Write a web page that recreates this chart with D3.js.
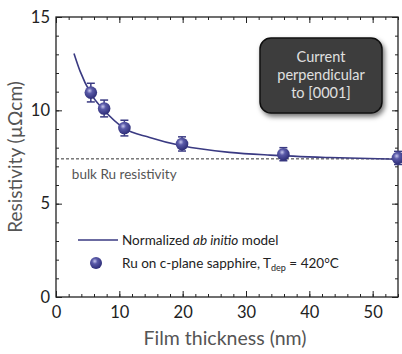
<!DOCTYPE html>
<html>
<head>
<meta charset="utf-8">
<script src="https://cdn.jsdelivr.net/npm/d3@7"></script>
<style>
  body { margin: 0; background: #fff; }
  svg text { font-family: Lato, "Open Sans", sans-serif; }
</style>
</head>
<body>
<div id="chart"></div>
<script>
// measured Ru films: thickness (nm), resistivity (uOhm cm), error bar half-height
var thickness = [5.5, 7.6, 10.8, 19.9, 35.9, 54];
var resistivity = [10.95, 10.1, 9.05, 8.2, 7.65, 7.45];
var errs = [0.5, 0.45, 0.42, 0.38, 0.35, 0.35];

// normalized ab initio model
var modelX = [2.84, 3.8, 5.5, 7.6, 10.7, 14.8, 19.9, 27.4, 33.8, 43.2, 54];
var modelY = [13.05, 12.1, 10.9, 10.0, 9.05, 8.55, 8.1, 7.75, 7.6, 7.47, 7.38];

var bulk = 7.4;
var xTicks = [0, 10, 20, 30, 40, 50];
var yTicks = [0, 5, 10, 15];

var width = 402, height = 354;
var margin = {top: 17, right: 4, bottom: 57, left: 56};

var svg = d3.select("#chart").append("svg")
    .attr("width", width)
    .attr("height", height);

var defs = svg.append("defs");
var grad = defs.append("radialGradient")
    .attr("id", "ball")
    .attr("cx", "40%").attr("cy", "35%").attr("r", "65%");
grad.append("stop").attr("offset", "0%").attr("stop-color", "#c8c8ee");
grad.append("stop").attr("offset", "35%").attr("stop-color", "#5a5aa8");
grad.append("stop").attr("offset", "100%").attr("stop-color", "#2e2e78");

var shadow = defs.append("filter").attr("id", "shadow")
    .attr("x", "-20%").attr("y", "-20%").attr("width", "150%").attr("height", "150%");
shadow.append("feDropShadow")
    .attr("dx", 2).attr("dy", 3).attr("stdDeviation", 2.5)
    .attr("flood-color", "#000").attr("flood-opacity", 0.55);

var x = d3.scaleLinear().domain([0, 54]).range([margin.left, width - margin.right]);
var y = d3.scaleLinear().domain([0, 15]).range([height - margin.bottom, margin.top]);

var x0 = x.range()[0], x1 = x.range()[1], y0 = y.range()[0], y1 = y.range()[1];

// axes, ticks pointing into the plot
var axisColor = "#222";
svg.append("g")
    .attr("transform", "translate(0," + y0 + ")")
    .call(d3.axisBottom(x).tickValues(d3.range(0, 55, 2)).tickSize(-3).tickFormat(""))
    .call(g => g.select(".domain").remove());
svg.append("g")
    .attr("transform", "translate(0," + y0 + ")")
    .call(d3.axisBottom(x).tickValues(xTicks).tickSize(-6).tickPadding(9))
    .call(g => g.select(".domain").remove())
    .call(g => g.selectAll("text").attr("font-size", 16.5).attr("fill", "#222"));
svg.append("g")
    .attr("transform", "translate(0," + y1 + ")")
    .call(d3.axisTop(x).tickValues(d3.range(0, 55, 2)).tickSize(-3).tickFormat(""))
    .call(g => g.select(".domain").remove());
svg.append("g")
    .attr("transform", "translate(0," + y1 + ")")
    .call(d3.axisTop(x).tickValues(xTicks).tickSize(-6).tickFormat(""))
    .call(g => g.select(".domain").remove());

svg.append("g")
    .attr("transform", "translate(" + x0 + ",0)")
    .call(d3.axisLeft(y).tickValues(d3.range(0, 16, 1)).tickSize(-3).tickFormat(""))
    .call(g => g.select(".domain").remove());
svg.append("g")
    .attr("transform", "translate(" + x0 + ",0)")
    .call(d3.axisLeft(y).tickValues(yTicks).tickSize(-6).tickPadding(6))
    .call(g => g.select(".domain").remove())
    .call(g => g.selectAll("text").attr("font-size", 16.5).attr("fill", "#222"));
svg.append("g")
    .attr("transform", "translate(" + x1 + ",0)")
    .call(d3.axisRight(y).tickValues(d3.range(0, 16, 1)).tickSize(-3).tickFormat(""))
    .call(g => g.select(".domain").remove());
svg.append("g")
    .attr("transform", "translate(" + x1 + ",0)")
    .call(d3.axisRight(y).tickValues(yTicks).tickSize(-6).tickFormat(""))
    .call(g => g.select(".domain").remove());

svg.selectAll(".tick line").attr("stroke", axisColor);

svg.append("rect")
    .attr("x", x0).attr("y", y1)
    .attr("width", x1 - x0).attr("height", y0 - y1)
    .attr("fill", "none").attr("stroke", axisColor).attr("stroke-width", 1.3);

// bulk line
svg.append("line")
    .attr("x1", x0).attr("x2", x1)
    .attr("y1", y(bulk)).attr("y2", y(bulk))
    .attr("stroke", "#333").attr("stroke-width", 1)
    .attr("stroke-dasharray", "3,2");
svg.append("text")
    .attr("x", x(2.5)).attr("y", y(bulk) + 20)
    .attr("font-size", 13.5).attr("fill", "#555")
    .text("bulk Ru resistivity");

// model curve
var curveColor = "#3a3a82";
var line = d3.line()
    .x(d => x(d[0])).y(d => y(d[1]))
    .curve(d3.curveMonotoneX);
svg.append("path")
    .datum(d3.zip(modelX, modelY))
    .attr("d", line)
    .attr("fill", "none")
    .attr("stroke", curveColor)
    .attr("stroke-width", 1.6);

// data points with error bars
var pts = svg.append("g").selectAll("g")
    .data(d3.range(thickness.length))
  .enter().append("g");
pts.append("line")
    .attr("x1", i => x(thickness[i])).attr("x2", i => x(thickness[i]))
    .attr("y1", i => y(resistivity[i] + errs[i])).attr("y2", i => y(resistivity[i] - errs[i]))
    .attr("stroke", curveColor).attr("stroke-width", 1.5);
pts.selectAll("line.cap")
    .data(i => [[i, 1], [i, -1]])
  .enter().append("line")
    .attr("class", "cap")
    .attr("x1", d => x(thickness[d[0]]) - 4).attr("x2", d => x(thickness[d[0]]) + 4)
    .attr("y1", d => y(resistivity[d[0]] + d[1] * errs[d[0]]))
    .attr("y2", d => y(resistivity[d[0]] + d[1] * errs[d[0]]))
    .attr("stroke", curveColor).attr("stroke-width", 1.5);
pts.append("circle")
    .attr("cx", i => x(thickness[i])).attr("cy", i => y(resistivity[i]))
    .attr("r", 6.3)
    .attr("fill", "url(#ball)");

// legend
svg.append("line")
    .attr("x1", 78).attr("x2", 118).attr("y1", 240).attr("y2", 240)
    .attr("stroke", curveColor).attr("stroke-width", 1.6);
var t1 = svg.append("text").attr("x", 122).attr("y", 245)
    .attr("font-size", 13.5).attr("fill", "#222");
t1.append("tspan").text("Normalized ");
t1.append("tspan").attr("font-style", "italic").text("ab initio");
t1.append("tspan").text(" model");

svg.append("circle").attr("cx", 96).attr("cy", 263).attr("r", 6)
    .attr("fill", "url(#ball)");
var t2 = svg.append("text").attr("x", 122).attr("y", 268)
    .attr("font-size", 13.5).attr("fill", "#222");
t2.append("tspan").text("Ru on c-plane sapphire, T");
t2.append("tspan").attr("font-size", 9).attr("dy", 3).text("dep");
t2.append("tspan").attr("dy", -3).text(" = 420°C");

// annotation box
svg.append("rect")
    .attr("x", 260).attr("y", 38).attr("width", 122).attr("height", 75)
    .attr("rx", 11).attr("ry", 11)
    .attr("fill", "#3c3c3c").attr("stroke", "#111").attr("stroke-width", 1.5)
    .attr("filter", "url(#shadow)");
svg.append("text")
    .attr("x", 321).attr("y", 48).attr("text-anchor", "middle")
    .attr("font-size", 14.5).attr("fill", "#e0e0e0")
    .selectAll("tspan")
    .data(["Current", "perpendicular", "to [0001]"])
  .enter().append("tspan")
    .attr("x", 321).attr("dy", (d, i) => i === 0 ? 14 : 18)
    .text(d => d);

// axis titles
svg.append("text")
    .attr("x", (x0 + x1) / 2 - 2).attr("y", 345)
    .attr("text-anchor", "middle")
    .attr("font-size", 19.5).attr("fill", "#555")
    .text("Film thickness (nm)");
svg.append("text")
    .attr("transform", "translate(22," + ((y0 + y1) / 2) + ") rotate(-90)")
    .attr("text-anchor", "middle")
    .attr("font-size", 19).attr("fill", "#555")
    .text("Resistivity (µΩcm)");
</script>
</body>
</html>
